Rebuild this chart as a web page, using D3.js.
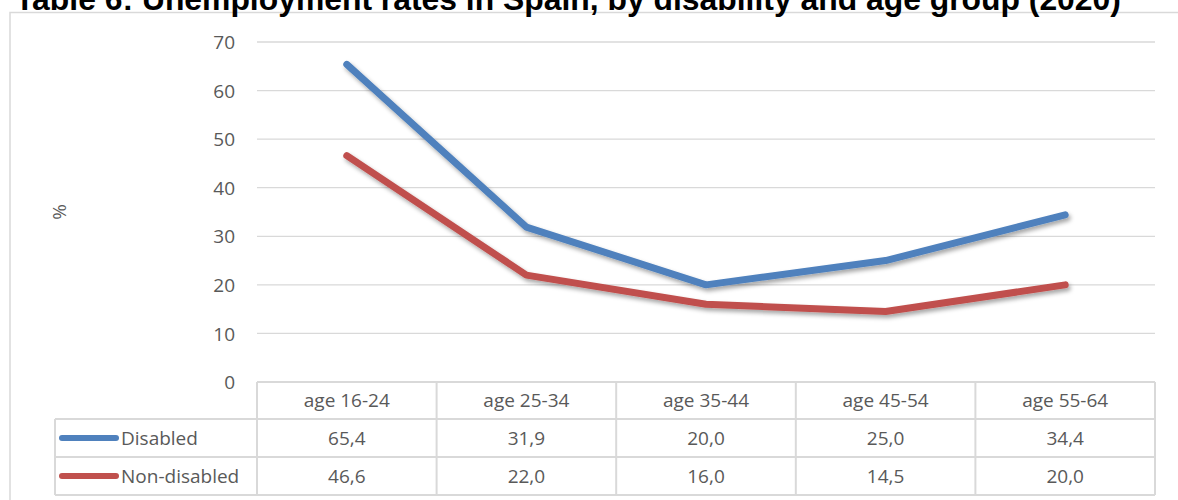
<!DOCTYPE html>
<html><head><meta charset="utf-8">
<script src="https://cdn.jsdelivr.net/npm/d3@7"></script>
<style>body{margin:0;background:#fff}svg{display:block}</style>
</head><body><svg id="c" width="1178" height="500"></svg>
<script>
const categories = ["age 16-24","age 25-34","age 35-44","age 45-54","age 55-64"];
const disabled = [65.4,31.9,20.0,25.0,34.4];
const nonDisabled = [46.6,22.0,16.0,14.5,20.0];
const seriesNames = ["Disabled","Non-disabled"];
const yTicks = [0,10,20,30,40,50,60,70];
const title = "Table 6: Unemployment rates in Spain, by disability and age group (2020)";

const svg = d3.select("#c");
const font = "'Open Sans', sans-serif";
const fs = 19;
const txt = "#595959", grid = "#d9d9d9";
const colors = ["#4f81bd","#c0504d"];
const series = [disabled, nonDisabled];

const defs = svg.append("defs");
const f = defs.append("filter").attr("id","sh").attr("x","-10%").attr("y","-10%").attr("width","130%").attr("height","140%");
f.append("feDropShadow").attr("dx",2).attr("dy",3).attr("stdDeviation",2).attr("flood-color","#000").attr("flood-opacity",0.35);

// chart border
svg.append("rect").attr("x",10).attr("y",12.5).attr("width",1190).attr("height",500).attr("fill","#fff").attr("stroke",grid).attr("stroke-width",1.5);

// title
const t = svg.append("text").attr("x",15).attr("y",9.5).attr("font-family","'Liberation Sans', Arial, sans-serif")
  .attr("font-weight","bold").attr("font-size",26).attr("fill","#000").text(title);
const w = t.node().getComputedTextLength();
t.attr("font-size", 26 * 1106 / w);

const x = d3.scaleBand().domain(categories).range([257,1155]);
const y = d3.scaleLinear().domain([0,70]).range([382,42]);

// grid
svg.append("g").selectAll("line").data(yTicks.filter(d=>d>0)).join("line")
  .attr("x1",257).attr("x2",1155).attr("y1",d=>y(d)).attr("y2",d=>y(d))
  .attr("stroke",grid).attr("stroke-width",1.3);

// y axis labels
const ya = svg.append("g").attr("transform","translate(235,0)").call(d3.axisLeft(y).tickValues(yTicks).tickSize(0).tickPadding(0));
ya.select(".domain").remove();
ya.selectAll("text").attr("font-family",font).attr("font-size",fs).attr("fill",txt).attr("dy","0.35em");

svg.append("text").attr("transform","translate(66,212) rotate(-90)").attr("text-anchor","middle")
  .attr("font-family",font).attr("font-size",fs).attr("fill",txt).text("%");

// lines
const line = d3.line().x((d,i)=>x(categories[i])+x.bandwidth()/2).y(d=>y(d));
series.forEach((s,k)=>{
  svg.append("path").attr("d",line(s)).attr("fill","none").attr("stroke",colors[k])
    .attr("stroke-width",7).attr("stroke-linecap","round").attr("stroke-linejoin","round").attr("filter","url(#sh)");
});

// data table
const rowY = [382,419,457,495];
const tg = svg.append("g").attr("stroke",grid).attr("stroke-width",2).attr("fill","none");
tg.append("line").attr("x1",257).attr("x2",1155).attr("y1",rowY[0]).attr("y2",rowY[0]);
tg.append("line").attr("x1",55).attr("x2",1155).attr("y1",rowY[1]).attr("y2",rowY[1]);
tg.append("line").attr("x1",55).attr("x2",1155).attr("y1",rowY[2]).attr("y2",rowY[2]);
tg.append("line").attr("x1",55).attr("x2",1155).attr("y1",rowY[3]).attr("y2",rowY[3]);
tg.append("line").attr("x1",55).attr("x2",55).attr("y1",rowY[1]).attr("y2",rowY[3]);
const cols = categories.map(c=>x(c)).concat([1155]);
tg.selectAll(".v").data(cols).join("line").attr("x1",d=>d).attr("x2",d=>d).attr("y1",rowY[0]).attr("y2",rowY[3]);

svg.append("g").selectAll("text").data(categories).join("text")
  .attr("x",d=>x(d)+x.bandwidth()/2).attr("y",(rowY[0]+rowY[1])/2).attr("dy","0.35em")
  .attr("text-anchor","middle").attr("font-family",font).attr("font-size",fs).attr("fill",txt).text(d=>d);

series.forEach((s,k)=>{
  const cy = (rowY[k+1]+rowY[k+2])/2;
  svg.append("line").attr("x1",62).attr("x2",116).attr("y1",cy).attr("y2",cy)
    .attr("stroke",colors[k]).attr("stroke-width",6).attr("stroke-linecap","round");
  svg.append("text").attr("x",121).attr("y",cy).attr("dy","0.35em").attr("font-family",font)
    .attr("font-size",fs).attr("fill",txt).text(seriesNames[k]);
  svg.append("g").selectAll("text").data(s).join("text")
    .attr("x",(d,i)=>x(categories[i])+x.bandwidth()/2).attr("y",cy).attr("dy","0.35em")
    .attr("text-anchor","middle").attr("font-family",font).attr("font-size",fs).attr("fill",txt)
    .text(d=>d.toFixed(1).replace(".",","));
});
</script></body></html>
